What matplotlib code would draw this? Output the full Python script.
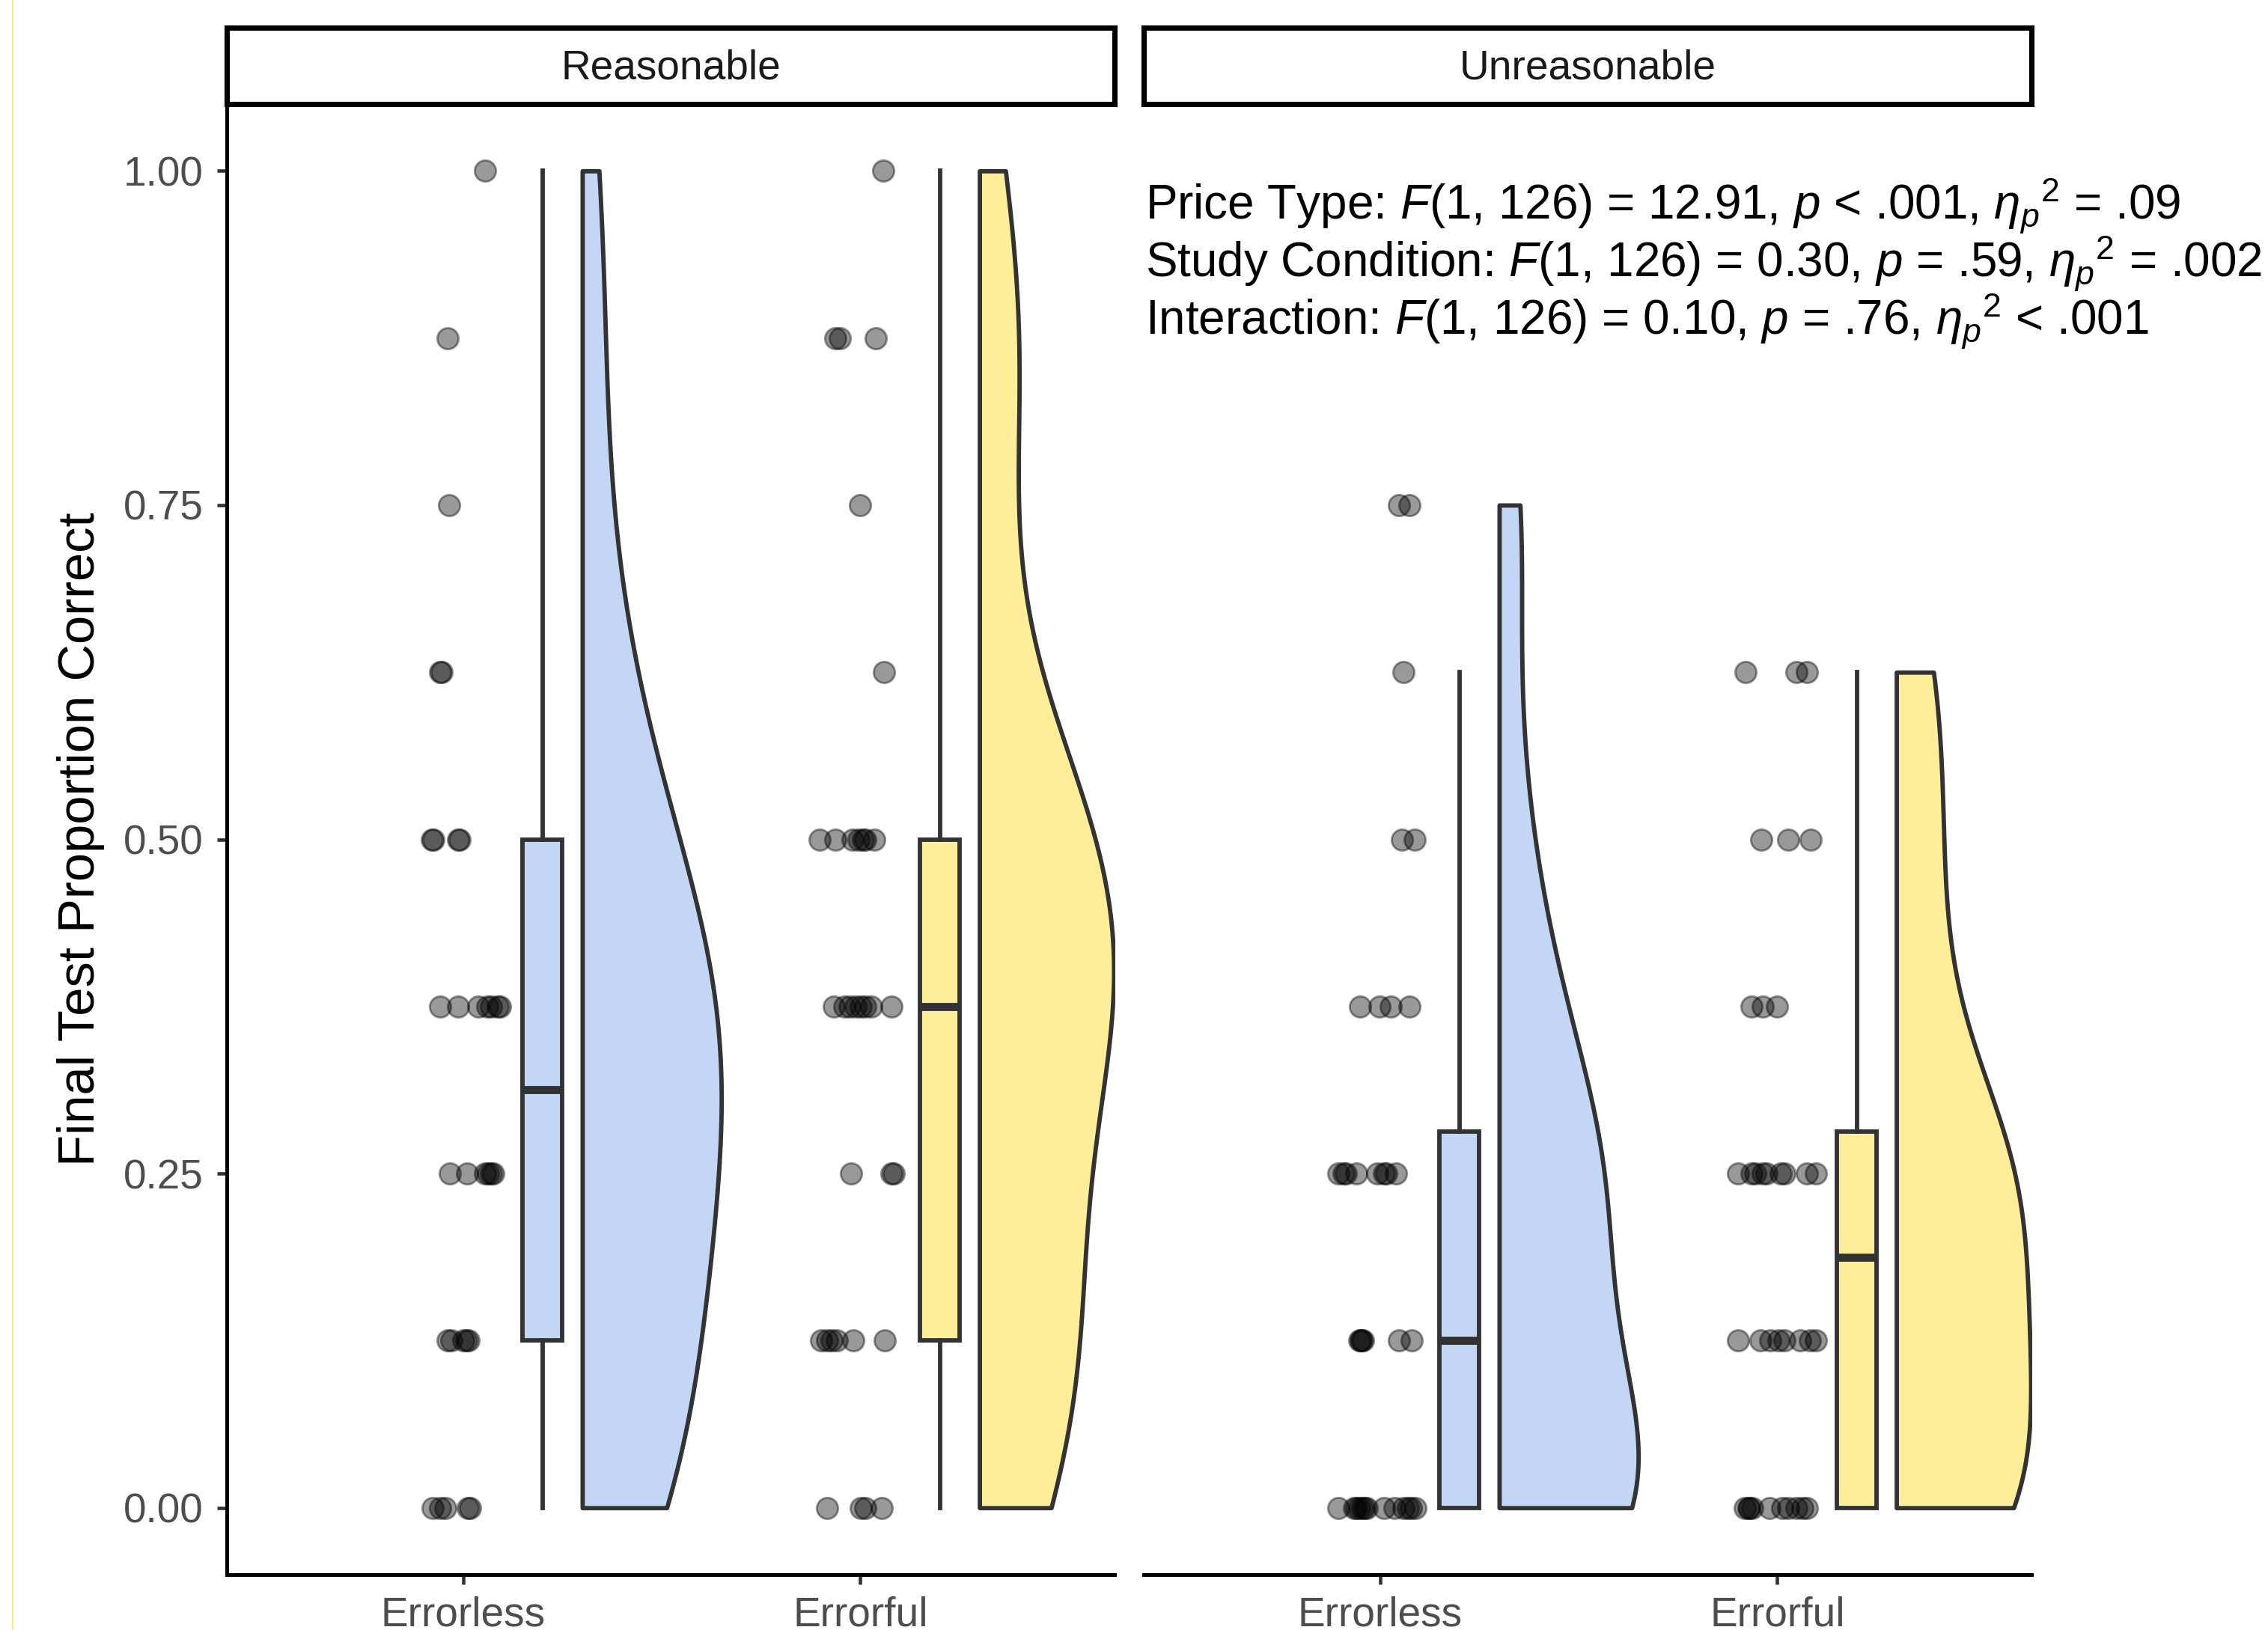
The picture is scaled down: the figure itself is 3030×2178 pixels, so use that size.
import numpy as np
import matplotlib.pyplot as plt
from matplotlib.lines import Line2D

plt.rcParams['font.family'] = ['Liberation Sans', 'DejaVu Sans']
plt.rcParams['mathtext.fontset'] = 'custom'
plt.rcParams['mathtext.rm'] = 'Liberation Sans'
plt.rcParams['mathtext.it'] = 'Liberation Sans:italic'

panels = ['Reasonable', 'Unreasonable']
conditions = ['Errorless', 'Errorful']
fills = ['#C3D6F5', '#FFEE99']
yticks = [0, 0.25, 0.5, 0.75, 1.0]
ytick_labels = ['0.00', '0.25', '0.50', '0.75', '1.00']

# scores, with the jitter each point got
reas_errorless_y = [1.0, 0.875, 0.75, 0.625, 0.625,
                    0.5, 0.5, 0.5, 0.5,
                    0.375, 0.375, 0.375, 0.375, 0.375, 0.375, 0.375,
                    0.25, 0.25, 0.25, 0.25, 0.25, 0.25,
                    0.125, 0.125, 0.125, 0.125, 0.125,
                    0, 0, 0, 0, 0]
reas_errorless_jit = [0.055, -0.040, -0.036, -0.058, -0.054,
                      -0.078, -0.074, -0.013, -0.009,
                      -0.057, -0.013, 0.039, 0.060, 0.070, 0.088, 0.093,
                      -0.033, 0.010, 0.055, 0.062, 0.070, 0.075,
                      -0.040, -0.030, 0.000, 0.008, 0.014,
                      -0.076, -0.058, -0.045, 0.012, 0.018]

reas_errorful_y = [1.0, 0.875, 0.875, 0.875, 0.75, 0.625,
                   0.5, 0.5, 0.5, 0.5, 0.5, 0.5, 0.5,
                   0.375, 0.375, 0.375, 0.375, 0.375, 0.375, 0.375, 0.375,
                   0.25, 0.25, 0.25,
                   0.125, 0.125, 0.125, 0.125, 0.125, 0.125,
                   0, 0, 0, 0]
reas_errorful_jit = [0.057, -0.062, -0.052, 0.039, -0.001, 0.060,
                     -0.102, -0.063, -0.019, -0.005, 0.006, 0.013, 0.035,
                     -0.066, -0.041, -0.027, -0.012, 0.002, 0.013, 0.027, 0.078,
                     -0.024, 0.078, 0.085,
                     -0.098, -0.084, -0.073, -0.059, -0.017, 0.062,
                     -0.084, 0.002, 0.013, 0.053]

unreas_errorless_y = [0.75, 0.75, 0.625, 0.5, 0.5,
                      0.375, 0.375, 0.375, 0.375,
                      0.25, 0.25, 0.25, 0.25, 0.25, 0.25, 0.25, 0.25,
                      0.125, 0.125, 0.125, 0.125, 0.125, 0.125,
                      0, 0, 0, 0, 0, 0, 0, 0, 0, 0, 0, 0, 0]
unreas_errorless_jit = [0.047, 0.074, 0.058, 0.056, 0.088,
                        -0.051, -0.002, 0.027, 0.074,
                        -0.105, -0.092, -0.086, -0.060, -0.007, 0.010, 0.016, 0.041,
                        -0.052, -0.049, -0.046, -0.043, 0.047, 0.080,
                        -0.105, -0.065, -0.060, -0.052, -0.045, -0.040, -0.034,
                        0.009, 0.036, 0.058, 0.070, 0.078, 0.090]

unreas_errorful_y = [0.625, 0.625, 0.625, 0.5, 0.5, 0.5,
                     0.375, 0.375, 0.375,
                     0.25, 0.25, 0.25, 0.25, 0.25, 0.25, 0.25, 0.25, 0.25,
                     0.125, 0.125, 0.125, 0.125, 0.125, 0.125, 0.125, 0.125,
                     0, 0, 0, 0, 0, 0, 0, 0, 0, 0]
unreas_errorful_jit = [-0.080, 0.048, 0.074, -0.040, 0.028, 0.085,
                       -0.065, -0.037, 0.000,
                       -0.099, -0.065, -0.055, -0.037, -0.027, 0.008, 0.018, 0.074, 0.098,
                       -0.099, -0.042, -0.017, 0.003, 0.018, 0.058, 0.083, 0.098,
                       -0.082, -0.072, -0.070, -0.062, -0.019, 0.013, 0.028, 0.048, 0.063, 0.074]

stats_lines = [
    r'Price Type: $\mathit{F}$(1, 126) = 12.91, $\mathit{p}$ < .001, $\mathit{η}_{\mathit{p}}{}^{2}$ = .09',
    r'Study Condition: $\mathit{F}$(1, 126) = 0.30, $\mathit{p}$ = .59, $\mathit{η}_{\mathit{p}}{}^{2}$ = .002',
    r'Interaction: $\mathit{F}$(1, 126) = 0.10, $\mathit{p}$ = .76, $\mathit{η}_{\mathit{p}}{}^{2}$ < .001',
]

data = {
    'Reasonable': [(reas_errorless_y, reas_errorless_jit), (reas_errorful_y, reas_errorful_jit)],
    'Unreasonable': [(unreas_errorless_y, unreas_errorless_jit), (unreas_errorful_y, unreas_errorful_jit)],
}


def bw_nrd0(x):
    hi = np.std(x, ddof=1)
    q75, q25 = np.percentile(x, [75, 25])
    lo = min(hi, (q75 - q25) / 1.34)
    return 0.9 * lo * len(x) ** -0.2


def kde(x, grid):
    bw = bw_nrd0(x)
    z = (grid[:, None] - x[None, :]) / bw
    return np.exp(-0.5 * z ** 2).sum(axis=1) / (len(x) * bw * np.sqrt(2 * np.pi))


W, H = 3030, 2178
fig = plt.figure(figsize=(W / 300, H / 300), dpi=300)

edge = '#333333'
panel_x = [303, 1528]
panel_w = 1186
top, bottom = 139, 2104

for p, panel in enumerate(panels):
    ax = fig.add_axes([panel_x[p] / W, 1 - bottom / H, panel_w / W, (bottom - top) / H])
    groups = data[panel]

    # half violins, scaled by the largest density in the panel
    curves = []
    for y, jit in groups:
        y = np.array(y, dtype=float)
        grid = np.linspace(y.min(), y.max(), 512)
        curves.append((grid, kde(y, grid)))
    dmax = max(d.max() for g, d in curves)

    for k, (y, jit) in enumerate(groups):
        pos = k + 1
        grid, dens = curves[k]
        ax.fill_betweenx(grid, pos + 0.3, pos + 0.3 + 0.35 * dens / dmax,
                         facecolor=fills[k], edgecolor=edge, linewidth=1.4, zorder=2)
        ax.boxplot(y, positions=[pos + 0.2], widths=0.1, patch_artist=True,
                   showfliers=False, showcaps=False, whis=1.5,
                   boxprops=dict(facecolor=fills[k], edgecolor=edge, linewidth=1.4),
                   whiskerprops=dict(color=edge, linewidth=1.4),
                   medianprops=dict(color=edge, linewidth=2.6, solid_capstyle='butt'),
                   zorder=2)
        ax.scatter(pos + np.array(jit), y, s=46, color='black', alpha=0.4,
                   edgecolors='black', linewidths=0.7, zorder=3)

    ax.set_xlim(0.405, 2.64)
    ax.set_ylim(-0.05, 1.05)
    ax.set_xticks([1, 2])
    ax.set_xticklabels(conditions)
    ax.spines['top'].set_visible(False)
    ax.spines['right'].set_visible(False)
    ax.spines['bottom'].set_linewidth(1.2)
    ax.tick_params(axis='x', length=3.2, width=1.1, color=edge, pad=3.6,
                   labelsize=13.2, labelcolor='#4D4D4D')
    if p == 0:
        ax.spines['left'].set_linewidth(1.2)
        ax.set_yticks(yticks)
        ax.set_yticklabels(ytick_labels)
        ax.tick_params(axis='y', length=3.2, width=1.1, color=edge, pad=4.3,
                       labelsize=13.2, labelcolor='#4D4D4D')
    else:
        ax.spines['left'].set_visible(False)
        ax.set_yticks([])

    # facet strip
    sax = fig.add_axes([panel_x[p] / W, 1 - top / H, panel_w / W, (top - 37) / H])
    sax.set_xticks([])
    sax.set_yticks([])
    for s in sax.spines.values():
        s.set_linewidth(1.7)
        s.set_color('black')
    sax.text(0.5, 0.47, panel, ha='center', va='center', fontsize=13.2,
             color='#1A1A1A', transform=sax.transAxes)

fig.text(108 / W, 1 - 1121 / H, 'Final Test Proportion Correct', rotation=90,
         ha='center', va='center', fontsize=16.5, color='black')

for i, line in enumerate(stats_lines):
    fig.text(1530 / W, 1 - (294 + 77 * i) / H, line, ha='left', va='baseline',
             fontsize=15.3, color='black')

fig.add_artist(Line2D([16.5 / W, 16.5 / W], [0, 1], color='#FFE58A', linewidth=0.5))

fig.savefig('out.png', dpi=300)
